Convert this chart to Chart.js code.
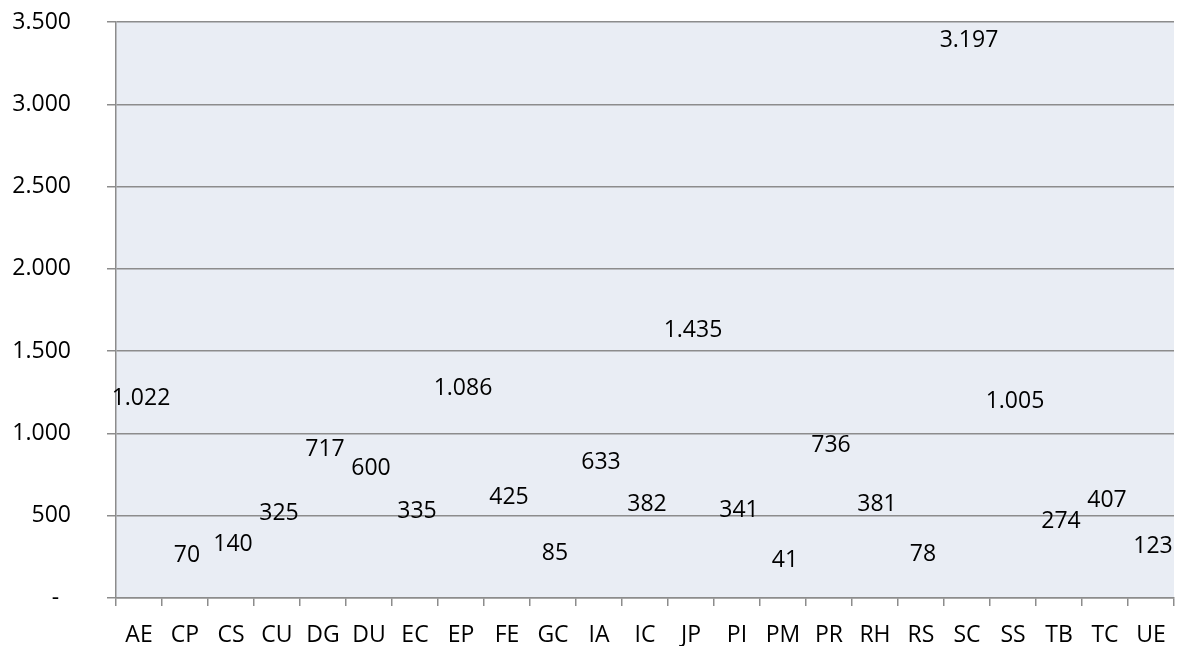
<!DOCTYPE html>
<html>
<head>
<meta charset="utf-8">
<script src="https://cdn.jsdelivr.net/npm/chart.js@4.4.1/dist/chart.umd.min.js"></script>
<style>
  html, body { margin: 0; padding: 0; background: #fff; }
  #wrap { width: 1183px; height: 646px; }
</style>
</head>
<body>
<div id="wrap"><canvas id="chart"></canvas></div>
<script>
const categories = ['AE', 'CP', 'CS', 'CU', 'DG', 'DU', 'EC', 'EP', 'FE', 'GC', 'IA', 'IC',
    'JP', 'PI', 'PM', 'PR', 'RH', 'RS', 'SC', 'SS', 'TB', 'TC', 'UE'];
const values = [1022, 70, 140, 325, 717, 600, 335, 1086, 425, 85, 633, 382,
    1435, 341, 41, 736, 381, 78, 3197, 1005, 274, 407, 123];
const yTicks = [0, 500, 1000, 1500, 2000, 2500, 3000, 3500];

const FONT = '"Open Sans", "Liberation Sans", sans-serif';
const FSIZE = 23;
const GRID = '#8c8c8c';

// thousands with a dot, zero shown as a dash
function fmt(v) {
    if (v === 0) return '-  ';
    return String(v).replace(/\B(?=(\d{3})+(?!\d))/g, '.');
}

// plot area fill
const plotBg = {
    id: 'plotBg',
    beforeDraw(chart) {
        const a = chart.chartArea, c = chart.ctx;
        c.save();
        c.fillStyle = '#e9edf4';
        c.fillRect(a.left, a.top, a.right - a.left, a.bottom - a.top);
        c.restore();
    }
};

// value labels floating above the (invisible) bars
const valueLabels = {
    id: 'valueLabels',
    afterDatasetsDraw(chart) {
        const c = chart.ctx;
        const meta = chart.getDatasetMeta(0);
        c.save();
        c.font = FSIZE + 'px ' + FONT;
        c.fillStyle = '#000';
        c.textAlign = 'center';
        c.textBaseline = 'middle';
        meta.data.forEach((bar, i) => {
            c.fillText(fmt(values[i]), bar.x + 2, bar.y - 31);
        });
        c.restore();
    }
};

new Chart(document.getElementById('chart'), {
    type: 'bar',
    data: {
        labels: categories,
        datasets: [{
            data: values,
            backgroundColor: 'rgba(0,0,0,0)',
            borderWidth: 0
        }]
    },
    options: {
        responsive: true,
        maintainAspectRatio: false,
        animation: false,
        layout: { padding: { top: 22, right: 9, left: 0, bottom: 0 } },
        plugins: {
            legend: { display: false },
            tooltip: { enabled: false }
        },
        scales: {
            x: {
                grid: {
                    offset: true,
                    drawOnChartArea: false,
                    drawTicks: true,
                    tickLength: 8,
                    tickColor: GRID,
                    lineWidth: 1.5
                },
                border: { color: GRID, width: 1.5 },
                ticks: {
                    color: '#000',
                    font: { family: FONT, size: FSIZE },
                    padding: 16,
                    maxRotation: 0,
                    autoSkip: false
                },
                afterFit(scale) { scale.height = 48; scale.paddingLeft = 0; scale.paddingRight = 0; }
            },
            y: {
                min: 0,
                max: 3500,
                afterBuildTicks(scale) {
                    scale.ticks = yTicks.map(v => ({ value: v }));
                },
                grid: {
                    color: GRID,
                    lineWidth: 1.5,
                    tickLength: 9,
                    tickColor: GRID
                },
                border: { color: GRID, width: 1.5 },
                ticks: {
                    color: '#000',
                    font: { family: FONT, size: FSIZE },
                    padding: 36,
                    callback: v => fmt(v)
                },
                afterFit(scale) { scale.width = 116; scale.paddingTop = 0; scale.paddingBottom = 0; }
            }
        }
    },
    plugins: [plotBg, valueLabels]
});
</script>
</body>
</html>
